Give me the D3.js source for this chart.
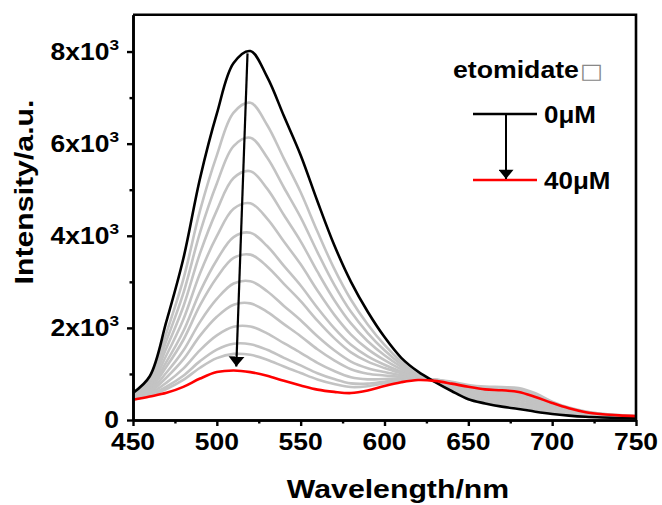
<!DOCTYPE html>
<html><head><meta charset="utf-8">
<script src="https://cdn.jsdelivr.net/npm/d3@7"></script>
<style>
body{margin:0;background:#fff}
text{font-family:"Liberation Sans",Arial,sans-serif;font-weight:bold;fill:#000}
</style>
</head><body>
<svg id="chart" width="662" height="505"></svg>
<script>
// ---------- data ----------
const wavelengths = [450,460,470,480,490,500,510,520,530,540,550,560,570,580,590,600,610,620,630,640,650,660,670,680,690,700,710,720,730,740,750];
const black0uM = [590,950,2150,3500,5250,6650,7750,8010,7450,6600,5750,4750,3800,3000,2350,1800,1350,1050,830,630,450,360,290,240,180,130,95,70,55,45,40];
const red40uM  = [440,510,590,720,900,1040,1075,1040,960,850,750,660,610,585,640,740,820,868,850,790,720,665,645,610,500,370,255,170,125,100,85];
const gray1  = [566,879,1899,3052,4550,5747,6675,6888,6405,5674,4945,4092,3286,2611,2075,1629,1265,980,836,654,487,404,341,295,228,162,116,84,65,52,45];
const gray2  = [550,831,1729,2749,4076,5135,5948,6128,5698,5048,4400,3646,2939,2348,1888,1514,1207,960,841,674,518,440,384,340,268,189,134,95,73,58,50];
const gray3  = [534,785,1567,2460,3623,4552,5254,5403,5023,4450,3880,3220,2607,2097,1710,1404,1152,945,846,694,549,477,426,386,308,216,151,107,81,64,54];
const gray4  = [519,741,1411,2182,3188,3991,4586,4706,4374,3875,3380,2811,2288,1855,1539,1298,1099,930,851,714,580,513,469,431,348,243,169,118,89,70,59];
const gray5  = [505,701,1267,1927,2788,3475,3972,4065,3777,3346,2920,2435,1994,1633,1382,1200,1050,920,856,734,611,550,511,477,388,270,186,130,97,76,63];
const gray6  = [495,671,1161,1737,2492,3093,3518,3591,3335,2955,2580,2157,1778,1469,1266,1128,1014,910,860,750,636,579,545,513,420,292,200,139,103,81,67];
const gray7  = [482,635,1031,1507,2131,2628,2964,3013,2797,2477,2165,1817,1513,1268,1124,1040,970,900,864,766,661,608,579,549,452,314,214,148,109,86,71];
const gray8  = [472,604,924,1315,1831,2241,2503,2532,2349,2081,1820,1535,1293,1102,1006,967,933,890,868,782,686,637,613,586,484,335,228,157,116,91,74];
const gray9  = [461,572,812,1115,1518,1837,2023,2030,1882,1667,1460,1241,1063,928,883,891,895,885,872,798,710,667,647,622,516,357,242,167,122,95,78];
const gray10 = [453,548,726,962,1278,1528,1656,1646,1525,1350,1185,1016,888,795,789,832,866,880,876,814,735,696,681,659,548,378,256,176,129,100,81];
const gray11 = [448,534,674,870,1135,1343,1435,1416,1310,1161,1020,881,782,715,732,797,849,875,880,830,760,725,715,695,580,400,270,185,135,105,85];
const grayCurves = [gray1,gray2,gray3,gray4,gray5,gray6,gray7,gray8,gray9,gray10,gray11];

const xTicks = [450,500,550,600,650,700,750];
const xMinorTicks = [475,525,575,625,675,725];
const yTicks = [0,2000,4000,6000,8000];
const yTickLabels = ["0","2x10","4x10","6x10","8x10"];
const yTickExp = ["","3","3","3","3"];
const yMinorTicks = [1000,3000,5000,7000];
const xTitle = "Wavelength/nm";
const yTitle = "Intensity/a.u.";
const legendTitle = "etomidate";
const legendMissing = "\u25A1";
const legendLabels = ["0μM","40μM"];
const arrowFrom = [518.3, 7960];
const arrowTo = [511.6, 1160];

// ---------- layout ----------
const svg = d3.select("#chart");
const L = 133, R = 636, T = 14.7, B = 420;
const x = d3.scaleLinear().domain([450,750]).range([L,R]);
const y = d3.scaleLinear().domain([0,8800]).range([B,T]);

// text helper: horizontally widened text (reference font is wide)
function wideText(parent, tx, ty, size, sx, anchor, rot){
  const g = parent.append("g").attr("transform",`translate(${tx},${ty})${rot?` rotate(${rot})`:""} scale(${sx},1)`);
  return g.append("text").attr("x",0).attr("y",0).attr("font-size",size).attr("text-anchor",anchor||"start");
}

const defs = svg.append("defs");
defs.append("marker").attr("id","ah").attr("viewBox","0 0 10 16")
  .attr("refX",10).attr("refY",8).attr("markerWidth",10).attr("markerHeight",17)
  .attr("markerUnits","userSpaceOnUse").attr("orient","auto")
  .append("path").attr("d","M0,0 L10,8 L0,16 Z").attr("fill","#000");
defs.append("marker").attr("id","ah2").attr("viewBox","0 0 10 16")
  .attr("refX",10).attr("refY",8).attr("markerWidth",11).attr("markerHeight",15)
  .attr("markerUnits","userSpaceOnUse").attr("orient","auto")
  .append("path").attr("d","M0,0 L10,8 L0,16 Z").attr("fill","#000");

const line = d3.line().x((d,i)=>x(wavelengths[i])).y(d=>y(d)).curve(d3.curveCatmullRom.alpha(0.5));

const plot = svg.append("g");
plot.selectAll("path.gray").data(grayCurves).join("path").attr("class","gray")
  .attr("d",line).attr("fill","none").attr("stroke","#c3c3c3").attr("stroke-width",2.6);
plot.append("path").attr("d",line(black0uM)).attr("fill","none").attr("stroke","#000").attr("stroke-width",2.6);
plot.append("path").attr("d",line(red40uM)).attr("fill","none").attr("stroke","#ff0000").attr("stroke-width",2.6);

// main arrow
plot.append("line").attr("x1",x(arrowFrom[0])).attr("y1",y(arrowFrom[1]))
  .attr("x2",x(arrowTo[0])).attr("y2",y(arrowTo[1]))
  .attr("stroke","#000").attr("stroke-width",2.2).attr("marker-end","url(#ah)");

// axes
const xAxis = svg.append("g").attr("transform",`translate(0,${B})`)
  .call(d3.axisBottom(x).tickValues(xTicks).tickSize(6).tickSizeOuter(0).tickFormat(""));
const xMinor = svg.append("g").attr("transform",`translate(0,${B})`)
  .call(d3.axisBottom(x).tickValues(xMinorTicks).tickSize(3.5).tickSizeOuter(0).tickFormat(""));
const yAxis = svg.append("g").attr("transform",`translate(${L},0)`)
  .call(d3.axisLeft(y).tickValues(yTicks).tickSize(6).tickSizeOuter(0).tickFormat(""));
const yMinor = svg.append("g").attr("transform",`translate(${L},0)`)
  .call(d3.axisLeft(y).tickValues(yMinorTicks).tickSize(3.5).tickSizeOuter(0).tickFormat(""));
[xAxis,xMinor,yAxis,yMinor].forEach(g=>{
  g.selectAll("path.domain").attr("stroke","#000").attr("stroke-width",2.6);
  g.selectAll(".tick line").attr("stroke","#000").attr("stroke-width",2.4);
});
// frame top/right
svg.append("path").attr("d",`M${L},${T}H${R}V${B}`).attr("fill","none").attr("stroke","#000").attr("stroke-width",2.6);

// x tick labels
const xl = svg.append("g");
xTicks.forEach(v=>{
  wideText(xl, x(v), 450, 23, 1.15, "middle").text(d3.format("d")(v));
});

// y tick labels with superscript
const yl = svg.append("g");
yTicks.forEach((v,i)=>{
  const t = wideText(yl, L-14, y(v)+8.3, 23, 1.15, "end");
  t.append("tspan").text(yTickLabels[i]);
  if(yTickExp[i]) t.append("tspan").attr("font-size",15).attr("dy",-10).text(yTickExp[i]);
});

// titles
wideText(svg, 398, 498, 25, 1.21, "middle").text(xTitle);
wideText(svg, 33, 192, 25, 1.21, "middle", -90).text(yTitle);

// legend
const lg = svg.append("g");
const lt = wideText(lg, 453, 78, 23, 1.16, "start");
lt.append("tspan").text(legendTitle);
lt.append("tspan").attr("font-weight","normal").attr("fill","#888").attr("font-size",21).attr("font-family","DejaVu Sans").attr("dx",1).text(legendMissing);
lg.append("line").attr("x1",473).attr("x2",537).attr("y1",114).attr("y2",114).attr("stroke","#000").attr("stroke-width",2.6);
lg.append("line").attr("x1",473).attr("x2",537).attr("y1",180).attr("y2",180).attr("stroke","#ff0000").attr("stroke-width",2.6);
lg.append("line").attr("x1",506).attr("x2",506).attr("y1",115).attr("y2",179).attr("stroke","#000").attr("stroke-width",2).attr("marker-end","url(#ah2)");
wideText(lg, 544, 123, 23, 1.13, "start").text(legendLabels[0]);
wideText(lg, 544, 189, 23, 1.13, "start").text(legendLabels[1]);
</script>
</body></html>
